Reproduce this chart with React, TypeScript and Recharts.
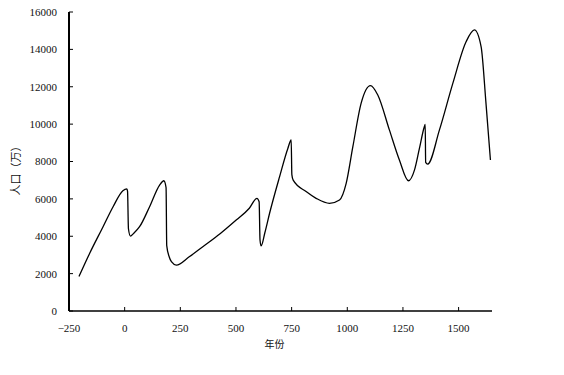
import React from "react";
import { LineChart, Line, XAxis, YAxis, Label } from "recharts";

const years = [
  -205, -157, -97, -52, -8, 10, 13, 17, 26, 40, 67, 112, 157, 176, 186, 189, 200, 210, 232,
  290, 351, 430, 501, 560, 594, 604, 608, 613, 630, 651, 696, 733, 748, 751, 757, 815, 860, 920,
  965, 995, 1025, 1062, 1104, 1137, 1189, 1234, 1275, 1302, 1324, 1346, 1350, 1352, 1361, 1414,
  1474, 1534, 1571, 1601, 1623, 1643,
];
const population = [
  1850, 3090, 4510, 5580, 6440, 6530, 6400, 4400, 4010, 4150, 4510, 5580, 6740, 6970, 6600, 3500,
  2900, 2640, 2460, 2900, 3440, 4150, 4870, 5500, 6030, 5850, 3800, 3480, 4200, 5230, 7190,
  8700, 9150, 7300, 7000, 6390, 6030, 5760, 5940, 6830, 8790, 11110, 12060, 11560, 9690, 8080,
  6970, 7550, 8700, 9860, 9990, 7950, 7860, 9690, 12180, 14420, 15040, 14150, 11110, 8080,
];
const xTicks = [-250, 0, 250, 500, 750, 1000, 1250, 1500];
const yTicks = [0, 2000, 4000, 6000, 8000, 10000, 12000, 14000, 16000];
const xTitle = "年份";
const yTitle = "人口（万）";

const data = years.map((year, i) => ({ year, pop: population[i] }));

const FONT = "'Liberation Serif', 'DejaVu Serif', serif";
const fmtX = (v: number) => (v < 0 ? "\u2212" + Math.abs(v) : String(v));

export default function App() {
  return (
    <div style={{ position: "absolute", left: 0, top: 0, background: "#fff" }}>
      <LineChart
        width={564}
        height={375}
        data={data}
        margin={{ top: 12, right: 72, bottom: 34, left: 0 }}
      >
        <XAxis
          dataKey="year"
          type="number"
          domain={[-250, 1650]}
          ticks={xTicks}
          allowDataOverflow
          height={30}
          tickSize={-4}
          tickMargin={17}
          tickFormatter={fmtX}
          axisLine={{ stroke: "#000", strokeWidth: 1.5 }}
          tickLine={{ stroke: "#000", strokeWidth: 1 }}
          tick={{ fill: "#111", fontSize: 11, fontFamily: FONT }}
        >
          <Label
            value={xTitle}
            position="bottom"
            offset={0}
            dx={-6}
            style={{ fill: "#111", fontSize: 10, fontFamily: "'Noto Sans CJK SC', sans-serif" }}
          />
        </XAxis>
        <YAxis
          type="number"
          domain={[0, 16000]}
          ticks={yTicks}
          width={69}
          tickSize={-4}
          tickMargin={16}
          axisLine={{ stroke: "#000", strokeWidth: 2 }}
          tickLine={{ stroke: "#000", strokeWidth: 1 }}
          tick={{ fill: "#111", fontSize: 11, fontFamily: FONT }}
        />
        <text
          x={15}
          y={168}
          transform="rotate(-90 15 168)"
          textAnchor="middle"
          dominantBaseline="central"
          style={{ fill: "#111", fontSize: 11, fontFamily: "'Noto Sans CJK SC', sans-serif" }}
        >
          {yTitle}
        </text>
        <Line
          type="monotone"
          dataKey="pop"
          stroke="#000"
          strokeWidth={1.3}
          dot={false}
          isAnimationActive={false}
        />
      </LineChart>
    </div>
  );
}
